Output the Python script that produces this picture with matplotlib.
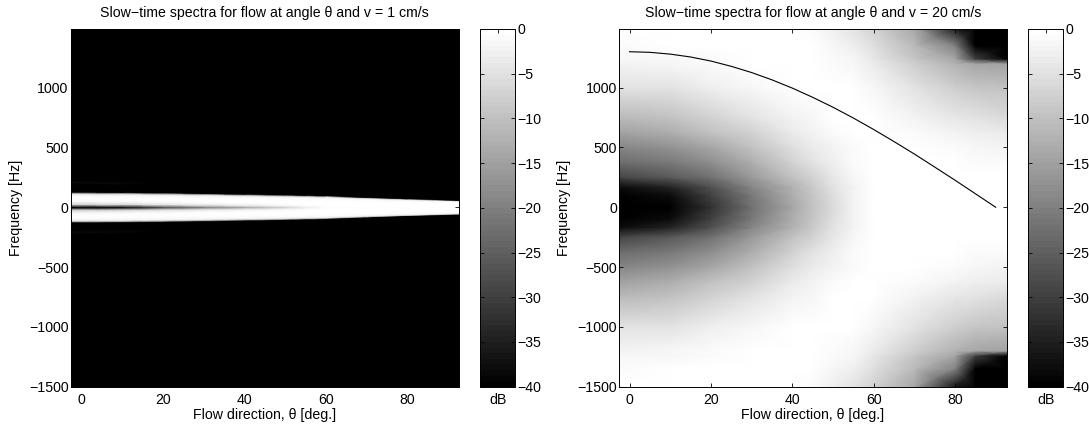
"""Slow-time spectra vs flow direction for two flow velocities."""
import numpy as np
import matplotlib
matplotlib.use("Agg")
import matplotlib.pyplot as plt

plt.rcParams["font.family"] = ["Liberation Sans", "DejaVu Sans"]
plt.rcParams["font.size"] = 10.2

# left panel, v = 1 cm/s: narrow band, freq given relative to the band edge
left_theta = [-2.6, 10, 20, 30, 40, 50, 55, 60, 70, 80, 92.7]
left_edge_hz = [118, 116, 113, 108, 103, 97, 94, 90, 78, 67, 55]
left_rel = [0, 0.08, 0.2, 0.4, 0.6, 0.8, 0.92, 1.0, 1.08, 1.6, 1.75, 1.9, 13, 30]
left_db = [
    [-40, -38, -28, -20, -14, -7, -3, -1, 0, 0, 0],
    [-28, -26, -18, -12, -8, -4, -2, -0.5, 0, 0, 0],
    [-7, -6.5, -5, -3.5, -2, -1, -0.5, -0.2, 0, 0, 0],
    [-1.5, -1.2, -0.9, -0.6, -0.3, -0.1, 0, 0, 0, 0, 0],
    [-0.1, -0.1, -0.1, -0.1, -0.1, -0.1, -0.1, -0.1, -0.1, -0.1, -0.1],
    [-1, -1, -1, -1, -1, -1, -1, -1, -1, -1, -1],
    [-3, -3, -3, -3, -3, -3, -3, -3, -3, -3, -3],
    [-12, -12, -12, -12, -12, -12, -12, -12, -12, -12, -12],
    [-40, -40, -40, -40, -40, -40, -40, -40, -40, -40, -40],
    [-40, -40, -40, -40, -40, -40, -40, -40, -40, -40, -40],
    [-38, -38.5, -40, -40, -40, -40, -40, -40, -40, -40, -40],
    [-40, -40, -40, -40, -40, -40, -40, -40, -40, -40, -40],
    [-40, -40, -40, -40, -40, -40, -40, -40, -40, -40, -40],
    [-40, -40, -40, -40, -40, -40, -40, -40, -40, -40, -40],
]

# right panel, v = 20 cm/s: one side of the spectrum, it is close to symmetric
right_theta = [-2.6, 10, 20, 30, 40, 45, 50, 55, 60, 70, 80, 85, 92.7]
right_freq = [0, 100, 170, 250, 375, 500, 625, 750, 1000, 1200, 1240, 1350, 1500]
right_db = [
    [-40, -40, -32, -22, -14, -10, -6, -2.5, -0.1, 0, 0, 0, 0],
    [-40, -38, -30, -21, -13, -9.2, -5.5, -2.3, -0.1, 0, 0, 0, 0],
    [-38, -34, -27, -19, -12, -8.5, -5, -2, -0.1, 0, 0, 0, 0],
    [-29, -26, -22, -16, -10, -7, -4, -1.5, -0.1, 0, -0.1, -0.2, -0.3],
    [-23, -21, -18, -13, -7.5, -5, -3, -1.2, -0.1, -0.1, -0.4, -0.7, -1],
    [-19, -17, -14, -10, -5.5, -3.5, -2, -0.8, -0.1, -0.3, -1, -1.5, -2],
    [-14.5, -13, -10, -7, -3.7, -2, -1.2, -0.5, -0.2, -1, -2.3, -3, -3.7],
    [-11, -9.5, -7, -4.5, -2.3, -1.3, -0.6, -0.2, -0.5, -2, -4, -5, -6],
    [-5, -4.5, -3, -1.5, -0.5, -0.2, -0.1, -0.3, -1.5, -5, -8, -9, -10],
    [-2, -1.8, -1, -0.4, -0.1, -0.2, -0.7, -1.5, -3.5, -8, -12, -14, -15],
    [-1.6, -1.4, -0.8, -0.3, 0, -0.2, -0.8, -1.8, -4, -9, -14, -30, -40],
    [-0.7, -0.6, -0.3, -0.1, 0, -0.4, -1.5, -3, -5.5, -11, -20, -40, -40],
    [-0.2, -0.2, -0.1, 0, 0, -1, -3, -5, -7.5, -14, -36, -40, -40],
]

# expected doppler shift, right panel
line_theta = [0, 5, 10, 15, 20, 25, 30, 35, 40, 45, 50, 55, 60, 65, 70, 75, 80, 85, 90]
line_freq = [1300, 1295, 1280, 1256, 1222, 1178, 1126, 1065, 996, 919, 836, 746, 650,
             549, 445, 336, 226, 113, 0]

titles = [u"Slow\u2212time spectra for flow at angle \u03b8 and v = 1 cm/s",
          u"Slow\u2212time spectra for flow at angle \u03b8 and v = 20 cm/s"]
x_ticks = [0, 20, 40, 60, 80]
y_ticks = [-1500, -1000, -500, 0, 500, 1000]
cb_ticks = [0, -5, -10, -15, -20, -25, -30, -35, -40]


def px_axes(fig, x0, x1, y0, y1):
    W, H = fig.get_size_inches() * fig.dpi
    return fig.add_axes([x0 / W, 1 - y1 / H, (x1 - x0) / W, (y1 - y0) / H])


def mirror(rows):
    rows = np.asarray(rows, dtype=float)
    return np.vstack([rows[:0:-1], rows])


def style_axes(ax, title):
    ax.set_xlim(-2.6, 92.7)
    ax.set_ylim(-1500, 1490)
    ax.set_xticks(x_ticks)
    ax.set_yticks(y_ticks)
    ax.tick_params(direction="in", top=True, right=True, length=3, width=0.6)
    ax.tick_params(axis="x", pad=4.5)
    ax.tick_params(axis="y", pad=1.5)
    ax.set_title(title, fontsize=10.2, pad=8.5)
    ax.set_xlabel(u"Flow direction, \u03b8 [deg.]", labelpad=0.6)
    ax.set_ylabel("Frequency [Hz]", labelpad=4.5)
    for s in ax.spines.values():
        s.set_linewidth(0.7)


def add_colorbar(fig, mesh, x0, x1):
    cax = px_axes(fig, x0, x1, 29, 386.7)
    cb = fig.colorbar(mesh, cax=cax)
    cb.set_ticks(cb_ticks)
    cb.ax.yaxis.set_major_formatter(matplotlib.ticker.FuncFormatter(
        lambda v, p: (u"\u2212%d" % -v) if v < 0 else "0"))
    cb.ax.tick_params(direction="in", left=True, right=True, length=3, width=0.6, pad=1.5)
    cb.ax.set_xticks([0.5])
    cb.ax.tick_params(axis="x", direction="in", top=True, bottom=True, labelbottom=False,
                      length=3, width=0.6)
    cb.ax.set_xlabel("dB", labelpad=4.2)
    cb.outline.set_linewidth(0.7)


def main():
    fig = plt.figure(figsize=(10.89, 4.25), dpi=100)
    cmap = plt.get_cmap("gray", 64)

    ax1 = px_axes(fig, 70.7, 459, 29, 386.7)
    rel = np.concatenate([-np.array(left_rel[:0:-1]), left_rel])
    yy = np.outer(rel, left_edge_hz)
    xx = np.tile(left_theta, (len(rel), 1))
    m1 = ax1.pcolormesh(xx, yy, mirror(left_db), cmap=cmap, vmin=-40, vmax=0,
                        shading="gouraud", rasterized=True)
    style_axes(ax1, titles[0])
    add_colorbar(fig, m1, 480.4, 515)

    ax2 = px_axes(fig, 619, 1006.7, 29, 386.7)
    freq = np.concatenate([-np.array(right_freq[:0:-1]), right_freq])
    m2 = ax2.pcolormesh(right_theta, freq, mirror(right_db), cmap=cmap, vmin=-40, vmax=0,
                        shading="gouraud", rasterized=True)
    ax2.plot(line_theta, line_freq, color="k", lw=0.8)
    style_axes(ax2, titles[1])
    add_colorbar(fig, m2, 1028.3, 1063)

    fig.savefig("out.png", dpi=100)


if __name__ == "__main__":
    main()
